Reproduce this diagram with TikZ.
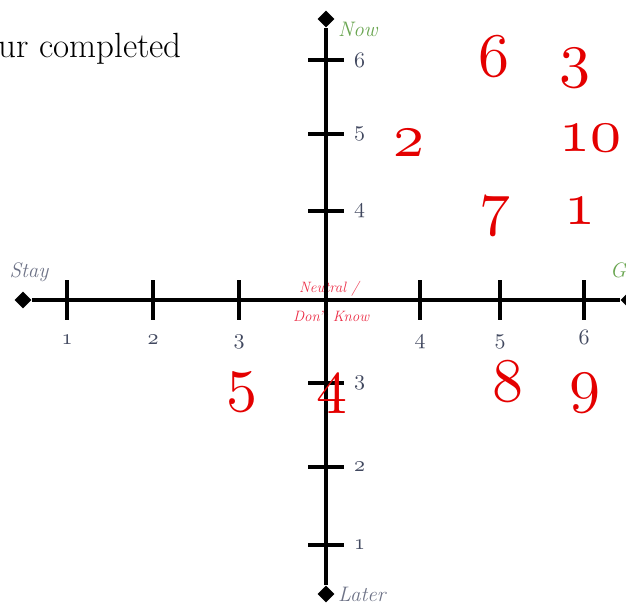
\documentclass[tikz,border=0pt]{standalone}
\usepackage{xcolor}
\usepackage{tikz}
\usetikzlibrary{shapes.geometric}
\definecolor{scorered}{RGB}{228,0,0}
\definecolor{endgreen}{RGB}{105,165,80}
\definecolor{endgray}{RGB}{110,115,135}
\definecolor{ticklabel}{RGB}{65,72,95}
\definecolor{neutralred}{RGB}{235,45,70}
% old-style figures at any size
\DeclareFontFamily{OML}{oldnum}{\skewchar\font=127}
\DeclareFontShape{OML}{oldnum}{m}{it}{<-> cmmi10}{}
\newcommand\oldnum[1]{{\usefont{OML}{oldnum}{m}{it}#1}}

\begin{document}
\begin{tikzpicture}[x=1pt, y=1pt,
  axis/.style={line width=4pt, color=black},
  tickmark/.style={line width=4pt, color=black},
  axisend/.style={diamond, fill=black, inner sep=0pt, minimum size=17pt},
  ticklab/.style={font=\fontsize{22}{24}\selectfont, color=ticklabel, inner sep=0pt},
  endlab/.style={font=\fontsize{21}{23}\selectfont\itshape, inner sep=0pt},
  neutral/.style={font=\fontsize{15}{17}\selectfont\itshape, color=neutralred, inner sep=0pt, anchor=base},
  score/.style={font=\fontsize{62}{64}\selectfont, color=scorered, inner sep=0pt, anchor=base},
]
\clip (0,0) rectangle (626,602);

\node[font=\fontsize{35}{37}\selectfont, anchor=base east, inner sep=0pt] (intro) at (182,544) {ur completed};

% axis labels
\node[endlab, color=endgreen, anchor=base west] (nowlab) at (338,565) {Now};
\node[endlab, color=endgray, anchor=base west] (laterlab) at (338,1) {Later};
\node[endlab, color=endgray, anchor=base] (staylab) at (29,324) {Stay};
\node[endlab, color=endgreen, anchor=base west] (golab) at (610,324) {Go};
\node[neutral] (neutral) at (329,309) {Neutral /};
\node[neutral] (dontknow) at (331,280) {Don't Know};

% axes
\node[axisend] (stay) at (23,302) {};
\node[axisend] (go) at (629,302) {};
\node[axisend] (now) at (326,583) {};
\node[axisend] (later) at (326,8) {};
\draw[axis] (stay) -- (go);
\draw[axis] (later) -- (now);

\foreach \x/\n in {67/1,153/2,239/3,420/4,500/5,584/6}{
  \draw[tickmark] (\x,282) -- (\x,322);
  \node[ticklab, anchor=base] (go\n) at (\x,257) {\oldnum{\n}};
}
\foreach \y/\n in {57/1,135/2,219/3,391/4,468/5,542/6}{
  \draw[tickmark] (308,\y) -- (344,\y);
  \node[ticklab, anchor=west] (now\n) at (354,\y) {\oldnum{\n}};
}

% answers
\node[score] (a6) at (494,525) {\oldnum{6}};
\node[score] (a3) at (575,526) {\oldnum{3}};
\node[score] (a2) at (409,445) {\oldnum{2}};
\node[score] (a10) at (590,450) {\oldnum{10}};
\node[score] (a7) at (495,378) {\oldnum{7}};
\node[score] (a1) at (580,377) {\oldnum{1}};
\node[score] (a5) at (242,202) {\oldnum{5}};
\node[score] (a4) at (332,200) {\oldnum{4}};
\node[score] (a8) at (508,200) {\oldnum{8}};
\node[score] (a9) at (585,201) {\oldnum{9}};
\end{tikzpicture}
\end{document}
